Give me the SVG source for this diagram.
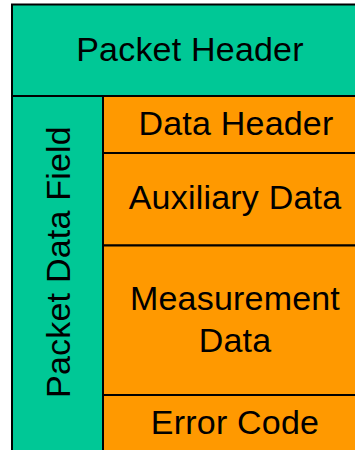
<svg xmlns="http://www.w3.org/2000/svg" width="355" height="450" viewBox="0 0 355 450">
<style>
.teal{fill:#00C896;stroke:#000;stroke-width:2}
.orange{fill:#FF9900;stroke:#000;stroke-width:2}
text{font-family:"Liberation Sans",Arial,sans-serif;font-size:34px;letter-spacing:0.2px;fill:#000;text-anchor:middle}
</style>
<rect width="355" height="450" fill="#fff"/>
<g id="packet-header">
<rect class="teal" x="12" y="4.5" width="360" height="91.5"/>
<text x="190" y="61">Packet Header</text>
</g>
<g id="packet-data-field">
<rect class="teal" x="12" y="96" width="91" height="370"/>
<text transform="translate(70,262) rotate(-90)">Packet Data Field</text>
</g>
<g id="data-header">
<rect class="orange" x="103" y="96" width="269" height="57"/>
<text x="236" y="135">Data Header</text>
</g>
<g id="auxiliary-data">
<rect class="orange" x="103" y="153" width="269" height="92.5"/>
<text x="235" y="209">Auxiliary Data</text>
</g>
<g id="measurement-data">
<rect class="orange" x="103" y="245.5" width="269" height="149.5"/>
<text x="235" y="310">Measurement</text>
<text x="235" y="352">Data</text>
</g>
<g id="error-code">
<rect class="orange" x="103" y="395" width="269" height="70"/>
<text x="235" y="434">Error Code</text>
</g>
<g id="connectors"></g>
</svg>
